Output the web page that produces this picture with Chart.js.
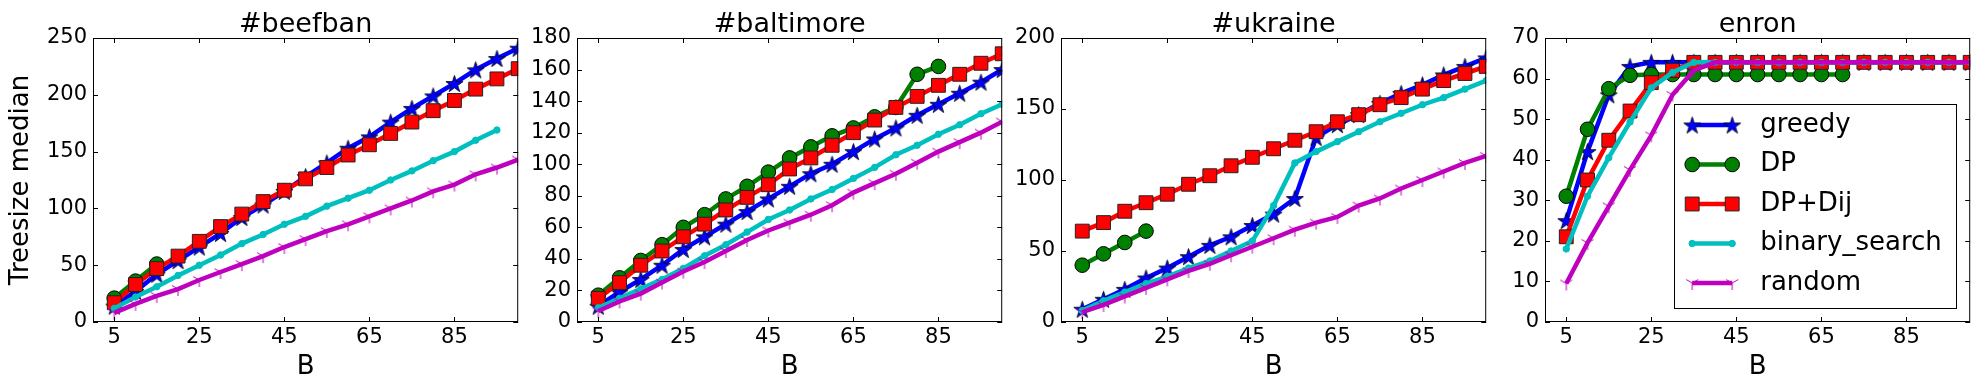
<!DOCTYPE html>
<html>
<head>
<meta charset="utf-8">
<script src="https://cdn.jsdelivr.net/npm/chart.js"></script>
<style>
  html, body { margin: 0; padding: 0; background: #fff; overflow: hidden; }
  #wrap { position: relative; width: 1984px; height: 392px; overflow: hidden; background: #fff; }
  #wrap canvas { position: absolute; top: 0; }
</style>
</head>
<body>
<div id="wrap"></div>
<script>
// budget B on the x axis, same for every panel
const B = [5, 10, 15, 20, 25, 30, 35, 40, 45, 50, 55, 60, 65, 70, 75, 80, 85, 90, 95, 100];
const xTickValues = [5, 25, 45, 65, 85];
const seriesNames = ['greedy', 'DP', 'DP+Dij', 'binary_search', 'random'];

// #beefban
const beefGreedy = [14, 27, 42, 54, 66, 78, 92, 103, 115, 128, 140, 153, 163, 176, 188, 199, 210, 222, 232, 241];
const beefDP = [21, 36, 51];
const beefDPDij = [17, 33, 47, 58, 71, 84, 95, 106, 116, 126, 136, 147, 156, 166, 176, 186, 195, 205, 214, 223];
const beefBinary = [12, 22, 31, 41, 50, 59, 69, 77, 86, 93, 102, 109, 116, 125, 133, 142, 150, 160, 169];
const beefRandom = [8, 16, 23, 29, 37, 44, 51, 58, 66, 73, 80, 86, 93, 100, 107, 115, 121, 130, 136, 143];

// #baltimore
const baltGreedy = [10, 19, 27, 36, 46, 54, 62, 70, 78, 86, 94, 100, 108, 116, 123, 131, 138, 145, 152, 160];
const baltDP = [17, 28, 39, 49, 60, 68, 78, 86, 95, 104, 111, 118, 123, 130, 136, 157, 162];
const baltDPDij = [15, 25, 36, 45, 54, 62, 71, 79, 87, 97, 104, 112, 120, 128, 136, 143, 150, 157, 164, 170];
const baltBinary = [9, 15, 21, 27, 34, 42, 49, 57, 65, 71, 78, 84, 91, 98, 106, 112, 119, 125, 132, 138];
const baltRandom = [7, 13, 18, 25, 32, 38, 45, 52, 58, 63, 68, 74, 82, 88, 94, 101, 108, 114, 120, 127];

// #ukraine
const ukrGreedy = [9, 16, 23, 31, 38, 46, 54, 60, 68, 76, 87, 130, 139, 146, 154, 161, 167, 174, 180, 186];
const ukrDP = [40, 48, 56, 64];
const ukrDPDij = [64, 70, 78, 84, 90, 97, 103, 110, 116, 122, 128, 134, 141, 146, 153, 158, 164, 170, 175, 180];
const ukrBinary = [8, 15, 21, 27, 32, 38, 43, 50, 57, 82, 112, 120, 127, 134, 141, 147, 153, 158, 164, 170];
const ukrRandom = [7, 12, 18, 24, 30, 36, 41, 47, 53, 59, 65, 70, 74, 82, 87, 94, 100, 106, 112, 117];

// enron
const enronGreedy = [25, 42, 56, 63, 64, 64, 64, 64, 64, 64, 64, 64, 64, 64, 64, 64, 64, 64, 64, 64];
const enronDP = [31, 47.5, 57.5, 60.8, 61, 61, 61, 61, 61, 61, 61, 61, 61, 61];
const enronDPDij = [21, 35, 44.8, 52, 59, 62, 64, 64, 64, 64, 64, 64, 64, 64, 64, 64, 64, 64, 64, 64];
const enronBinary = [18, 31, 40.5, 49.3, 57.7, 61.5, 64, 64, 64, 64, 64, 64, 64, 64, 64, 64, 64, 64, 64, 64];
const enronRandom = [9.5, 19.5, 28.5, 37.5, 46, 56, 62, 64, 64, 64, 64, 64, 64, 64, 64, 64, 64, 64, 64, 64];

const panels = [
  { title: '#beefban', yMax: 250, yStep: 50, ylabel: 'Treesize median', data: [beefGreedy, beefDP, beefDPDij, beefBinary, beefRandom] },
  { title: '#baltimore', yMax: 180, yStep: 20, data: [baltGreedy, baltDP, baltDPDij, baltBinary, baltRandom] },
  { title: '#ukraine', yMax: 200, yStep: 50, data: [ukrGreedy, ukrDP, ukrDPDij, ukrBinary, ukrRandom] },
  { title: 'enron', yMax: 70, yStep: 10, data: [enronGreedy, enronDP, enronDPDij, enronBinary, enronRandom], legend: true }
];

const FONT = "'DejaVu Sans', sans-serif";
Chart.defaults.font.family = FONT;
Chart.defaults.color = '#000';

const plotLeft = [93, 577, 1061, 1545];
const plotW = 430;
const M = 93;      // room for y ticks / label
const R = 6;       // small right margin
const TICK = 5;

// matplotlib style markers
function starImg(r, fill) {
  const c = document.createElement('canvas');
  const s = Math.ceil(r * 2 + 3);
  c.width = c.height = s;
  const g = c.getContext('2d');
  g.translate(s / 2, s / 2 + r * 0.1);
  g.beginPath();
  for (let i = 0; i < 10; i++) {
    const rr = i % 2 ? r * 0.382 : r;
    const a = -Math.PI / 2 + i * Math.PI / 5;
    g.lineTo(rr * Math.cos(a), rr * Math.sin(a));
  }
  g.closePath();
  g.fillStyle = fill;
  g.fill();
  g.strokeStyle = '#000';
  g.lineWidth = 0.8;
  g.stroke();
  return c;
}

function triDownImg(r, color) {
  const c = document.createElement('canvas');
  const s = Math.ceil(r * 2 + 2);
  c.width = c.height = s;
  const g = c.getContext('2d');
  g.translate(s / 2, s / 2);
  g.strokeStyle = color;
  g.lineWidth = 1;
  g.beginPath();
  g.moveTo(0, 0); g.lineTo(0, r);
  g.moveTo(0, 0); g.lineTo(-r * 0.866, -r * 0.5);
  g.moveTo(0, 0); g.lineTo(r * 0.866, -r * 0.5);
  g.stroke();
  return c;
}

const styles = [
  { color: '#0000ff', pointStyle: starImg(9, '#0000ff'), radius: 9, pointBg: '#0000ff', pointBorder: '#000', pbw: 0.8 },
  { color: '#008000', pointStyle: 'circle', radius: 7.3, pointBg: '#008000', pointBorder: '#000', pbw: 1 },
  { color: '#ff0000', pointStyle: 'rect', radius: 9.8, pointBg: '#ff0000', pointBorder: '#222', pbw: 1 },
  { color: '#00bfbf', pointStyle: 'circle', radius: 3.2, pointBg: '#00bfbf', pointBorder: '#00bfbf', pbw: 1 },
  { color: '#bf00bf', pointStyle: triDownImg(7, '#bf00bf'), radius: 7, pointBg: '#bf00bf', pointBorder: '#bf00bf', pbw: 1 }
];

const framePlugin = {
  id: 'frame',
  afterDatasetsDraw(chart) {
    const { ctx, chartArea: a } = chart;
    const xs = chart.scales.x, ys = chart.scales.y;
    ctx.save();
    ctx.strokeStyle = '#000';
    ctx.lineWidth = 1;
    ctx.beginPath();
    xs.ticks.forEach(t => {
      const p = Math.round(xs.getPixelForValue(t.value)) + 0.5;
      ctx.moveTo(p, a.bottom); ctx.lineTo(p, a.bottom - TICK);
      ctx.moveTo(p, a.top); ctx.lineTo(p, a.top + TICK);
    });
    ys.ticks.forEach(t => {
      const p = Math.round(ys.getPixelForValue(t.value)) + 0.5;
      ctx.moveTo(a.left, p); ctx.lineTo(a.left + TICK, p);
      ctx.moveTo(a.right, p); ctx.lineTo(a.right - TICK, p);
    });
    ctx.stroke();
    ctx.strokeRect(a.left + 0.5, a.top + 0.5, a.right - a.left - 1, a.bottom - a.top - 1);
    ctx.restore();
  }
};

function drawMarker(ctx, st, x, y) {
  if (st.pointStyle instanceof HTMLCanvasElement) {
    ctx.drawImage(st.pointStyle, x - st.pointStyle.width / 2, y - st.pointStyle.height / 2);
    return;
  }
  ctx.beginPath();
  if (st.pointStyle === 'circle') {
    ctx.arc(x, y, st.radius, 0, Math.PI * 2);
  } else {
    const h = st.radius * Math.SQRT1_2;
    ctx.rect(x - h, y - h, 2 * h, 2 * h);
  }
  ctx.fillStyle = st.pointBg;
  ctx.fill();
  ctx.lineWidth = st.pbw;
  ctx.strokeStyle = st.pointBorder;
  ctx.stroke();
}

// legend box in the lower right of the last panel, with two markers per sample like matplotlib
const legendPlugin = {
  id: 'boxLegend',
  afterDatasetsDraw(chart) {
    const { ctx, chartArea: a } = chart;
    const w = 282, h = 204;
    const left = a.right - 14 - w, top = a.bottom - 14 - h;
    ctx.save();
    ctx.fillStyle = '#fff';
    ctx.fillRect(left, top, w, h);
    ctx.strokeStyle = '#000';
    ctx.lineWidth = 1;
    ctx.strokeRect(Math.round(left) + 0.5, Math.round(top) + 0.5, w, h);
    chart.data.datasets.forEach((ds, i) => {
      const st = styles[i];
      const y = top + 21 + i * 39.5;
      const x1 = left + 18, x2 = left + 58;
      ctx.strokeStyle = st.color;
      ctx.lineWidth = 4.5;
      ctx.beginPath();
      ctx.moveTo(x1, y); ctx.lineTo(x2, y);
      ctx.stroke();
      drawMarker(ctx, st, x1, y);
      drawMarker(ctx, st, x2, y);
      ctx.fillStyle = '#000';
      ctx.font = '26px ' + FONT;
      ctx.textBaseline = 'middle';
      ctx.textAlign = 'left';
      ctx.fillText(ds.label, left + 86, y);
    });
    ctx.restore();
  }
};

const wrap = document.getElementById('wrap');

panels.forEach((p, k) => {
  const cv = document.createElement('canvas');
  cv.width = M + plotW + R;
  cv.height = 392;
  cv.style.left = (plotLeft[k] - M) + 'px';
  cv.style.width = cv.width + 'px';
  cv.style.height = '392px';
  wrap.appendChild(cv);

  const datasets = p.data.map((vals, i) => {
    const st = styles[i];
    return {
      label: seriesNames[i],
      data: vals.map((v, j) => ({ x: B[j], y: v })),
      borderColor: st.color,
      borderWidth: 4.5,
      backgroundColor: st.color,
      pointStyle: st.pointStyle,
      pointRadius: st.radius,
      pointBackgroundColor: st.pointBg,
      pointBorderColor: st.pointBorder,
      pointBorderWidth: st.pbw,
      tension: 0,
      clip: 0,
      order: 4 - i
    };
  });

  new Chart(cv, {
    type: 'line',
    data: { datasets },
    options: {
      responsive: false,
      animation: false,
      events: [],
      layout: { padding: { top: 0, right: R, bottom: 0, left: 0 } },
      plugins: {
        legend: { display: false },
        tooltip: { enabled: false },
        title: {
          display: true,
          fullSize: false,
          text: p.title,
          color: '#000',
          font: { size: 27, weight: 'normal', lineHeight: 1 },
          padding: { top: 11, bottom: 0 }
        }
      },
      scales: {
        x: {
          type: 'linear',
          min: 0,
          max: 100,
          afterBuildTicks: s => { s.ticks = xTickValues.map(v => ({ value: v })); },
          afterFit: s => { s.height = 70; },
          grid: { display: false, drawTicks: false },
          border: { display: false },
          ticks: { font: { size: 21 }, padding: 3, maxRotation: 0, autoSkip: false },
          title: { display: true, text: 'B', font: { size: 26, lineHeight: 1 }, padding: { top: 0, bottom: 12 } }
        },
        y: {
          type: 'linear',
          min: 0,
          max: p.yMax,
          afterFit: s => { s.width = M; },
          grid: { display: false, drawTicks: false },
          border: { display: false },
          ticks: { stepSize: p.yStep, font: { size: 21 }, padding: 6 },
          title: { display: !!p.ylabel, text: p.ylabel || '', font: { size: 26, lineHeight: 1 }, padding: { top: 8, bottom: 0 } }
        }
      }
    },
    plugins: p.legend ? [framePlugin, legendPlugin] : [framePlugin]
  });
});
</script>
</body>
</html>
